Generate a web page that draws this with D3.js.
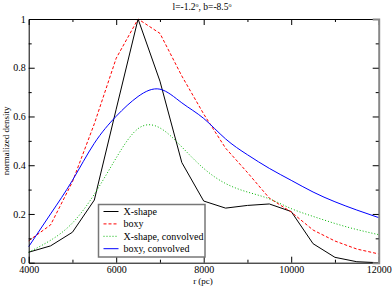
<!DOCTYPE html>
<html>
<head>
<meta charset="utf-8">
<script src="https://cdn.jsdelivr.net/npm/d3@7"></script>
<style>
  html, body { margin: 0; padding: 0; background: #fff; }
  svg { display: block; font-family: "Liberation Serif", "DejaVu Serif", serif; }
</style>
</head>
<body>
<div id="chart"></div>
<script>
// ----- data -----
const radius = [4000, 4500, 5000, 5500, 6000, 6500, 7000, 7500, 8000, 8500,
                9000, 9500, 10000, 10500, 11000, 11500, 12000];
const xShape = [0.043, 0.069, 0.125, 0.257, 0.63, 1.0, 0.745, 0.411, 0.253, 0.224,
                0.235, 0.241, 0.21, 0.078, 0.022, 0.004, 0.0];
const boxy = [0.09, 0.155, 0.332, 0.57, 0.839, 1.0, 0.941, 0.766, 0.61, 0.47,
              0.37, 0.265, 0.208, 0.134, 0.089, 0.056, 0.036];
const xShapeConv = [0.043, 0.092, 0.163, 0.281, 0.43, 0.55, 0.553, 0.475, 0.387, 0.325,
                    0.29, 0.262, 0.222, 0.19, 0.161, 0.136, 0.115];
const boxyConv = [0.066, 0.2, 0.338, 0.49, 0.601, 0.682, 0.712, 0.656, 0.592, 0.508,
                  0.443, 0.387, 0.338, 0.29, 0.25, 0.216, 0.185];

const seriesNames = ['X-shape', 'boxy', 'X-shape, convolved', 'boxy, convolved'];
const xMajorTicks = [4000, 6000, 8000, 10000, 12000];
const xMinorTicks = [5000, 7000, 9000, 11000];
const yMajorTicks = [0, 0.2, 0.4, 0.6, 0.8, 1];
const yMinorTicks = [0.1, 0.3, 0.5, 0.7, 0.9];

// ----- layout -----
const W = 392, H = 287;
const margin = { left: 28.7, right: 13.3, top: 19, bottom: 24.3 };
const plotW = W - margin.left - margin.right;
const plotH = H - margin.top - margin.bottom;

const svg = d3.select('#chart').append('svg')
    .attr('width', W)
    .attr('height', H);

const x = d3.scaleLinear().domain([4000, 12000]).range([margin.left, margin.left + plotW]);
const y = d3.scaleLinear().domain([0, 1]).range([margin.top + plotH, margin.top]);

// series styles
const styles = [
    { values: xShape,     color: '#000000', dash: null,  curve: d3.curveLinear },
    { values: boxy,       color: '#ff0000', dash: '3,2', curve: d3.curveLinear },
    { values: xShapeConv, color: '#00b400', dash: '1,2', curve: d3.curveNatural },
    { values: boxyConv,   color: '#0000ff', dash: null,  curve: d3.curveNatural }
];

const plot = svg.append('g');

styles.forEach(s => {
    const line = d3.line()
        .x((d, i) => x(radius[i]))
        .y(d => y(d))
        .curve(s.curve);
    plot.append('path')
        .datum(s.values)
        .attr('fill', 'none')
        .attr('stroke', s.color)
        .attr('stroke-width', 1)
        .attr('stroke-dasharray', s.dash)
        .attr('d', line);
});

// ----- frame and ticks (ticks pointing inward) -----
const x0 = margin.left, x1 = margin.left + plotW;
const y0 = margin.top + plotH, y1 = margin.top;

// bottom axis
const bottom = d3.axisBottom(x).tickValues(xMajorTicks).tickSize(-6).tickFormat(d => d);
const bottomG = svg.append('g').attr('transform', `translate(0,${y0})`).call(bottom);
bottomG.selectAll('.tick').filter(d => d === 4000 || d === 12000).select('line').remove();
svg.append('g').attr('transform', `translate(0,${y0})`)
    .call(d3.axisBottom(x).tickValues(xMinorTicks).tickSize(-3).tickFormat(''))
    .select('.domain').remove();

// top axis
const topG = svg.append('g').attr('transform', `translate(0,${y1})`)
    .call(d3.axisTop(x).tickValues(xMajorTicks.slice(1, -1)).tickSize(-6).tickFormat(''));
svg.append('g').attr('transform', `translate(0,${y1})`)
    .call(d3.axisTop(x).tickValues(xMinorTicks).tickSize(-3).tickFormat(''))
    .select('.domain').remove();

// left axis
const leftG = svg.append('g').attr('transform', `translate(${x0},0)`)
    .call(d3.axisLeft(y).tickValues(yMajorTicks).tickSize(-6)
        .tickFormat(d => d === 0 ? '0' : (d === 1 ? '1' : d3.format('.1f')(d))));
leftG.selectAll('.tick').filter(d => d === 0 || d === 1).select('line').remove();
svg.append('g').attr('transform', `translate(${x0},0)`)
    .call(d3.axisLeft(y).tickValues(yMinorTicks).tickSize(-3).tickFormat(''))
    .select('.domain').remove();

// right axis (drawn a bit heavier and grey, like the original)
const rightG = svg.append('g').attr('transform', `translate(${x1},0)`)
    .call(d3.axisRight(y).tickValues(yMajorTicks.slice(1, -1)).tickSize(-6).tickFormat(''));
rightG.select('.domain').attr('stroke', '#888').attr('stroke-width', 2);
svg.append('g').attr('transform', `translate(${x1},0)`)
    .call(d3.axisRight(y).tickValues(yMinorTicks).tickSize(-3).tickFormat(''))
    .select('.domain').remove();

svg.selectAll('.tick line').attr('stroke', '#000');
svg.selectAll('.tick text')
    .attr('font-family', '"Liberation Serif", serif')
    .attr('font-size', 10)
    .attr('fill', '#000');
bottomG.selectAll('.tick text').attr('dy', '0.35em').attr('y', 6.5);
leftG.selectAll('.tick text').attr('x', -3);
leftG.selectAll('.tick').filter(d => d === 0).select('text').attr('dy', '0.1em');

// ----- titles -----
const title = svg.append('text')
    .attr('x', 202)
    .attr('y', 10)
    .attr('text-anchor', 'middle')
    .attr('font-size', 9.5);
title.append('tspan').text('l=-1.2');
title.append('tspan').attr('font-size', 6).attr('dy', -3).text('o');
title.append('tspan').attr('dy', 3).text(', b=-8.5');
title.append('tspan').attr('font-size', 6).attr('dy', -3).text('o');

svg.append('text')
    .attr('x', 203)
    .attr('y', 284)
    .attr('text-anchor', 'middle')
    .attr('font-size', 9)
    .text('r (pc)');

svg.append('text')
    .attr('transform', `translate(9,${(y0 + y1) / 2}) rotate(-90)`)
    .attr('text-anchor', 'middle')
    .attr('font-size', 9)
    .text('normalized density');

// ----- legend -----
const legend = svg.append('g').attr('transform', 'translate(98.5,204.5)');
legend.append('rect')
    .attr('width', 106.5)
    .attr('height', 52.5)
    .attr('fill', '#fff')
    .attr('stroke', '#777')
    .attr('stroke-width', 1.5);

styles.forEach((s, i) => {
    const row = legend.append('g').attr('transform', `translate(0,${7 + i * 12.4})`);
    row.append('line')
        .attr('x1', 5).attr('x2', 20)
        .attr('y1', 0).attr('y2', 0)
        .attr('stroke', s.color)
        .attr('stroke-width', 1)
        .attr('stroke-dasharray', s.dash);
    row.append('text')
        .attr('x', 25)
        .attr('y', 3.5)
        .attr('font-size', 10)
        .text(seriesNames[i]);
});
</script>
</body>
</html>
